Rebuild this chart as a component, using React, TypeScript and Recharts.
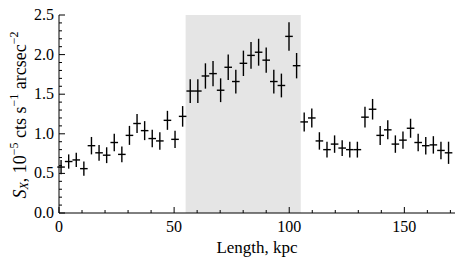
import React from 'react';
import { ScatterChart, Scatter, XAxis, YAxis, ErrorBar, ReferenceArea } from 'recharts';

const lengthKpc = [0.9, 4.2, 7.5, 10.8, 14.1, 17.4, 20.7, 24.0, 27.3, 30.6, 33.9, 37.2, 40.5, 43.8, 47.1, 50.4, 53.7, 57.0, 60.3, 63.6, 66.9, 70.2, 73.5, 76.8, 80.1, 83.4, 86.7, 90.0, 93.3, 96.6, 99.9, 103.2, 106.5, 109.8, 113.1, 116.4, 119.7, 123.0, 126.3, 129.6, 132.9, 136.2, 139.5, 142.8, 146.1, 149.4, 152.7, 156.0, 159.3, 162.6, 165.9, 169.2];
const brightness = [0.58, 0.65, 0.67, 0.56, 0.85, 0.76, 0.73, 0.89, 0.74, 0.98, 1.13, 1.04, 0.94, 0.91, 1.17, 0.93, 1.22, 1.54, 1.54, 1.73, 1.76, 1.55, 1.84, 1.66, 1.89, 1.99, 2.03, 1.93, 1.66, 1.61, 2.23, 1.86, 1.15, 1.20, 0.91, 0.80, 0.87, 0.82, 0.80, 0.80, 1.21, 1.31, 0.98, 1.05, 0.87, 0.92, 1.07, 0.89, 0.85, 0.86, 0.79, 0.76];
const brightnessErr = [0.09, 0.09, 0.09, 0.09, 0.11, 0.10, 0.10, 0.11, 0.10, 0.12, 0.12, 0.12, 0.11, 0.11, 0.12, 0.11, 0.13, 0.15, 0.15, 0.16, 0.16, 0.15, 0.16, 0.15, 0.16, 0.17, 0.17, 0.16, 0.15, 0.15, 0.18, 0.16, 0.12, 0.12, 0.11, 0.10, 0.11, 0.10, 0.10, 0.10, 0.13, 0.13, 0.12, 0.12, 0.11, 0.11, 0.12, 0.11, 0.11, 0.11, 0.11, 0.14];
const binHalfWidth = 1.65;

const xTicks = [0, 10, 20, 30, 40, 50, 60, 70, 80, 90, 100, 110, 120, 130, 140, 150, 160, 170];
const xLabelTicks = [0, 50, 100, 150];
const yTicks = [0, 0.1, 0.2, 0.3, 0.4, 0.5, 0.6, 0.7, 0.8, 0.9, 1.0, 1.1, 1.2, 1.3, 1.4, 1.5, 1.6, 1.7, 1.8, 1.9, 2.0, 2.1, 2.2, 2.3, 2.4, 2.5];
const yLabelTicks = [0, 0.5, 1.0, 1.5, 2.0, 2.5];
const shadeRange = [55, 105];

const data = lengthKpc.map((x, i) => ({ x, y: brightness[i], ye: brightnessErr[i], xe: binHalfWidth }));

const FONT = '"Liberation Serif", "DejaVu Serif", serif';
const isLabelX = (v: number) => xLabelTicks.some((t) => Math.abs(t - v) < 1e-6);
const isLabelY = (v: number) => yLabelTicks.some((t) => Math.abs(t - v) < 1e-6);

const BottomTick = (p: any) => {
  const major = isLabelX(p.payload.value);
  return (
    <g>
      <line x1={p.x} x2={p.x} y1={p.y} y2={p.y - (major ? 6 : 3)} stroke="#000" strokeWidth={1} />
      {major && (
        <text x={p.x} y={p.y + 19} textAnchor="middle" fontFamily={FONT} fontSize={16} fill="#000">
          {p.payload.value}
        </text>
      )}
    </g>
  );
};
const TopTick = (p: any) => {
  const major = isLabelX(p.payload.value);
  return <line x1={p.x} x2={p.x} y1={p.y} y2={p.y + (major ? 6 : 3)} stroke="#000" strokeWidth={1} />;
};
const LeftTick = (p: any) => {
  const major = isLabelY(p.payload.value);
  return (
    <g>
      <line x1={p.x} x2={p.x + (major ? 6 : 3)} y1={p.y} y2={p.y} stroke="#000" strokeWidth={1} />
      {major && (
        <text x={p.x - 5} y={p.y + 5} textAnchor="end" fontFamily={FONT} fontSize={16} fill="#000">
          {p.payload.value.toFixed(1)}
        </text>
      )}
    </g>
  );
};
const RightTick = (p: any) => {
  const major = isLabelY(p.payload.value);
  return <line x1={p.x} x2={p.x - (major ? 6 : 3)} y1={p.y} y2={p.y} stroke="#000" strokeWidth={1} />;
};

const YLabel = () => (
  <text
    x={22}
    y={115}
    transform="rotate(-90, 22, 115)"
    textAnchor="middle"
    fontFamily={FONT}
    fontSize={18}
    fill="#000"
    dominantBaseline="middle"
  >
    <tspan fontStyle="italic">S</tspan>
    <tspan fontStyle="italic" fontSize={12} dy={3}>X</tspan>
    <tspan dy={-3}>, 10</tspan>
    <tspan fontSize={12} dy={-7}>−5</tspan>
    <tspan dy={7}> cts s</tspan>
    <tspan fontSize={12} dy={-7}>−1</tspan>
    <tspan dy={7}> arcsec</tspan>
    <tspan fontSize={12} dy={-7}>−2</tspan>
  </text>
);

const XLabel = () => (
  <text x={257} y={253} textAnchor="middle" fontFamily={FONT} fontSize={17} fill="#000">
    Length, kpc
  </text>
);

export default function App() {
  return (
    <div style={{ position: 'absolute', left: 0, top: 0, background: '#fff' }}>
      <ScatterChart width={463} height={264} margin={{ top: 15, right: 8, bottom: 0, left: 0 }}>
        <XAxis
          xAxisId="b"
          dataKey="x"
          type="number"
          domain={[0, 172]}
          ticks={xTicks}
          interval={0}
          orientation="bottom"
          height={51}
          tickSize={0}
          tickMargin={0}
          tickLine={false}
          stroke="#000"
          tick={BottomTick}
          allowDataOverflow
          label={XLabel}
        />
        <XAxis
          xAxisId="t"
          type="number"
          domain={[0, 172]}
          ticks={xTicks}
          interval={0}
          orientation="top"
          height={0}
          tickSize={0}
          tickMargin={0}
          tickLine={false}
          stroke="#000"
          tick={TopTick}
          allowDataOverflow
        />
        <YAxis
          yAxisId="l"
          dataKey="y"
          type="number"
          domain={[0, 2.5]}
          ticks={yTicks}
          interval={0}
          orientation="left"
          width={59}
          tickSize={0}
          tickMargin={0}
          tickLine={false}
          stroke="#000"
          tick={LeftTick}
          allowDataOverflow
          label={YLabel}
        />
        <YAxis
          yAxisId="r"
          type="number"
          domain={[0, 2.5]}
          ticks={yTicks}
          interval={0}
          orientation="right"
          width={0}
          tickSize={0}
          tickMargin={0}
          tickLine={false}
          stroke="#000"
          tick={RightTick}
          allowDataOverflow
        />
        <ReferenceArea
          xAxisId="b"
          yAxisId="l"
          x1={shadeRange[0]}
          x2={shadeRange[1]}
          y1={0}
          y2={2.5}
          fill="#e5e5e5"
          fillOpacity={1}
          stroke="none"
        />
        <Scatter
          xAxisId="b"
          yAxisId="l"
          data={data}
          isAnimationActive={false}
          shape={() => <g />}
        >
          <ErrorBar dataKey="xe" direction="x" width={0} stroke="#000" strokeWidth={1.4} />
          <ErrorBar dataKey="ye" direction="y" width={0} stroke="#000" strokeWidth={1.4} />
        </Scatter>
      </ScatterChart>
    </div>
  );
}
